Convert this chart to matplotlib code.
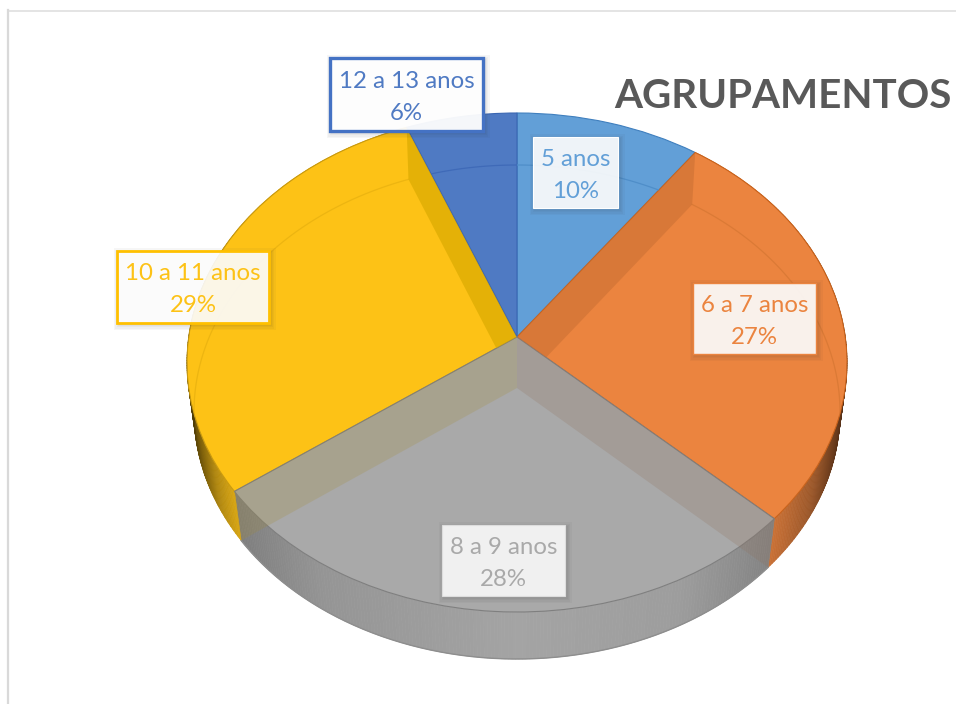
#!/usr/bin/env python3
"""Tilted 3D pie of age groups, with see-through top and boxed labels."""

import matplotlib

matplotlib.use("Agg")
import matplotlib.pyplot as plt
import numpy as np
from matplotlib.collections import PolyCollection
from matplotlib.patches import Polygon, Rectangle
from matplotlib.transforms import Transform

TITLE = "AGRUPAMENTOS"
GROUPS = ["5 anos", "6 a 7 anos", "8 a 9 anos", "10 a 11 anos", "12 a 13 anos"]
SHARES = [10, 27, 28, 29, 6]
COLORS = ["#629FD7", "#EB843F", "#A9A9A9", "#FDC216", "#4F7AC3"]
EDGES = ["#3F7FBE", "#C9631C", "#7F7F7F", "#C99A10", "#3A66B2"]
RIMS = ["#4F8EC9", "#DB7A36", "#8A8A8A", "#EDB511", "#3F6AB8"]

# label boxes in pixels: left, top, right, bottom, border width, border colour
BOXES = [
    (533, 137, 618, 208, 0.8, "#FFFFFF"),
    (693, 283, 816, 354, 1.0, "#EB843F"),
    (442, 525, 565, 596, 0.8, "#DDDDDD"),
    (117, 251, 269, 323, 2.0, "#FFC000"),
    (330, 58, 483, 131, 2.4, "#4472C4"),
]
LABEL_ALPHA = [0.9, 0.9, 0.87, 0.9, 0.95]

# wall shading: horizontal position on the rim -> brightness
WALL_SHADE = {
    1: ([0.73, 0.86, 0.97, 1.0], [0.86, 0.66, 0.38, 0.30]),
    2: ([-0.82, -0.55, 0.0, 0.45, 0.76], [0.74, 0.88, 0.97, 0.93, 0.76]),
    3: ([-1.0, -0.96, -0.88, -0.80], [0.28, 0.42, 0.70, 0.88]),
}


class Tilt(Transform):
    """Perspective from the unit circle to pixels."""

    input_dims = 2
    output_dims = 2

    def __init__(self, cx, cy, half_w, up, down):
        super().__init__()
        self.cx, self.cy = cx, cy
        self.k = (down - up) / (down + up)
        self.b = up * (1 + self.k)
        self.a = half_w * np.sqrt(1 - self.k**2)

    def transform_non_affine(self, values):
        xy = np.asarray(values, dtype=float)
        w = 1 + self.k * xy[:, 1]
        return np.column_stack([self.cx + self.a * xy[:, 0] / w,
                                self.cy - self.b * xy[:, 1] / w])


def on_circle(deg):
    # clockwise from twelve o'clock
    rad = np.radians(deg)
    return np.column_stack([np.sin(rad), np.cos(rad)])


def main():
    top = Tilt(517, 337, 330, 224, 275)
    bottom = Tilt(517, 388, 323, 223, 271)
    stops = np.concatenate([[0], np.cumsum(SHARES)]) * 360 / sum(SHARES)

    fig = plt.figure(figsize=(9.56, 7.04), dpi=100, facecolor="white")
    ax = fig.add_axes([0, 0, 1, 1])
    wedges, _ = ax.pie(SHARES, colors=COLORS, startangle=90, counterclock=False)
    ax.set_aspect("auto")
    ax.set_xlim(0, 956)
    ax.set_ylim(704, 0)
    ax.axis("off")

    for i, wedge in enumerate(wedges):
        wedge.set_transform(top + ax.transData)
        wedge.set_edgecolor(EDGES[i])
        wedge.set_linewidth(0.8)
        wedge.set_zorder(2.2 if i == 2 else 2)

    # outer wall, thin shaded strips
    for i, (xs, shade) in WALL_SHADE.items():
        deg = np.linspace(stops[i], stops[i + 1], 181)
        circle = on_circle(deg)
        upper, lower = top.transform_non_affine(circle), bottom.transform_non_affine(circle)
        quads = [[upper[j], upper[j + 1], lower[j + 1], lower[j]] for j in range(len(deg) - 1)]
        base = np.array(matplotlib.colors.to_rgb(COLORS[i]))
        mid = (circle[:-1, 0] + circle[1:, 0]) / 2
        cols = np.outer(np.interp(mid, xs, shade), base)
        ax.add_collection(PolyCollection(quads, facecolors=cols, edgecolors=cols,
                                         linewidths=0.5, zorder=1))

    # back rim of the base, seen through the top
    for i in (0, 1, 3, 4):
        pts = bottom.transform_non_affine(on_circle(np.linspace(stops[i], stops[i + 1], 120)))
        line, = ax.plot(pts[:, 0], pts[:, 1], color=RIMS[i], lw=0.9, zorder=3)
        line.set_clip_path(wedges[i])
    pts = bottom.transform_non_affine(on_circle(np.linspace(stops[2], stops[3], 180)))
    ax.plot(pts[:, 0], pts[:, 1], color="#8E8E8E", lw=1.0, zorder=2.5)

    # inner faces along the cuts
    hub_top = top.transform_non_affine(np.array([[0.0, 0.0]]))[0]
    hub_low = bottom.transform_non_affine(np.array([[0.0, 0.0]]))[0]

    def face(deg, color, alpha, clip=None):
        pt = on_circle(np.array([deg]))
        corners = [hub_top, top.transform_non_affine(pt)[0],
                   bottom.transform_non_affine(pt)[0], hub_low]
        poly = Polygon(corners, closed=True, facecolor=color, edgecolor="none",
                       alpha=alpha, zorder=3)
        ax.add_patch(poly)
        if clip is not None:
            poly.set_clip_path(clip)

    face(stops[1], "#C96F33", 0.55, wedges[1])
    face(stops[4], "#D8A800", 0.65, wedges[3])
    face(stops[3], "#A48B31", 0.22)
    face(stops[2], "#8F6E58", 0.22)

    # label boxes
    for i, (x0, y0, x1, y1, lw, edge) in enumerate(BOXES):
        for grow in (5, 3.5, 2, 1):
            ax.add_patch(Rectangle((x0 + 2 - grow, y0 + 2 - grow), x1 - x0 + 2 * grow,
                                   y1 - y0 + 2 * grow, facecolor="#303030", alpha=0.04,
                                   edgecolor="none", zorder=4))
        ax.add_patch(Rectangle((x0, y0), x1 - x0, y1 - y0,
                               facecolor=(1, 1, 1, LABEL_ALPHA[i]), edgecolor=edge,
                               linewidth=lw, zorder=5))
        cx = (x0 + x1) / 2
        ax.text(cx, y0 + 23, GROUPS[i], color=COLORS[i], fontsize=17.3, family="Lato",
                ha="center", va="center", zorder=6)
        ax.text(cx, y0 + 55, f"{SHARES[i]}%", color=COLORS[i], fontsize=17.3, family="Lato",
                ha="center", va="center", zorder=6)

    ax.text(614, 108, TITLE, color="#595959", fontsize=29.1, family="Lato",
            fontweight="bold", ha="left", va="baseline", zorder=6)

    # frame of the pasted chart
    ax.plot([8, 956], [10.5, 10.5], color="#DDDDDD", lw=1.1, zorder=0)
    ax.plot([8, 8], [10, 704], color="#D9D9D9", lw=1.6, zorder=0)

    fig.savefig("out.png", dpi=100, facecolor="white")
    plt.close(fig)


if __name__ == "__main__":
    main()
